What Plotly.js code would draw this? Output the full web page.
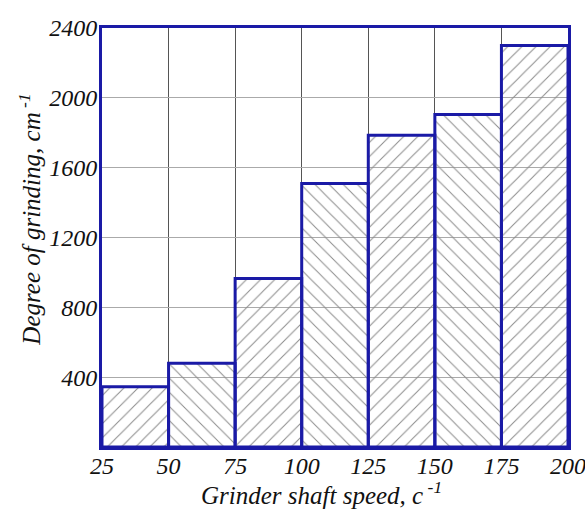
<!DOCTYPE html>
<html>
<head>
<meta charset="utf-8">
<script src="https://cdn.plot.ly/plotly-3.0.1.min.js"></script>
<style>html,body{margin:0;padding:0;background:#fff;}#chart{width:585px;height:510px;}</style>
</head>
<body>
<div id="chart"></div>
<script>
// Bin edges of grinder shaft speed (c^-1)
const binEdges = [25, 50, 75, 100, 125, 150, 175, 200];
// Degree of grinding (cm^-1) per bin
const grindValues = [345, 480, 965, 1510, 1785, 1905, 2300];
// Hatch direction per bin
const hatchShapes = ['/', '\\', '/', '\\', '/', '\\', '/'];
const xTickVals = [25, 50, 75, 100, 125, 150, 175, 200];
const yTickVals = [400, 800, 1200, 1600, 2000, 2400];
const xTitle = 'Grinder shaft speed, c<sup> -1</sup>';
const yTitle = 'Degree of grinding, cm<sup> -1</sup>';

const centers = grindValues.map((v, i) => (binEdges[i] + binEdges[i + 1]) / 2);
const widths = grindValues.map((v, i) => binEdges[i + 1] - binEdges[i]);

const blue = '#1a1aa6';
const fontFam = 'Liberation Serif';

const trace = {
  type: 'bar',
  x: centers,
  y: grindValues,
  width: widths,
  marker: {
    color: 'rgba(0,0,0,0)',
    line: {color: blue, width: 3},
    pattern: {
      shape: hatchShapes,
      fgcolor: '#8c8c8c',
      bgcolor: 'rgba(0,0,0,0)',
      size: 10,
      solidity: 0.1,
      fillmode: 'replace'
    }
  },
  hoverinfo: 'x+y'
};

const titleFont = {family: fontFam, size: 25, style: 'italic', color: '#111'};

const layout = {
  width: 585,
  height: 510,
  margin: {l: 102, r: 17, t: 28, b: 63},
  paper_bgcolor: '#fff',
  plot_bgcolor: '#fff',
  showlegend: false,
  bargap: 0,
  font: {family: fontFam, color: '#111'},
  xaxis: {
    range: [25, 200],
    tickvals: xTickVals,
    ticktext: xTickVals.map(String),
    tickfont: {family: fontFam, size: 24, style: 'italic', color: '#111'},
    ticklabeloverflow: 'allow',
    ticklabelstandoff: -5,
    showgrid: true,
    gridcolor: '#555',
    gridwidth: 1,
    zeroline: false,
    showline: true,
    mirror: true,
    linecolor: blue,
    linewidth: 3,
    ticks: ''
  },
  yaxis: {
    range: [0, 2400],
    tickvals: yTickVals,
    ticktext: yTickVals.map(String),
    tickfont: {family: fontFam, size: 24, style: 'italic', color: '#111'},
    ticklabeloverflow: 'allow',
    ticklabelstandoff: -3,
    showgrid: true,
    gridcolor: '#aaa',
    gridwidth: 1,
    zeroline: false,
    showline: true,
    mirror: true,
    linecolor: blue,
    linewidth: 3,
    ticks: ''
  },
  annotations: [
    {
      text: xTitle, xref: 'paper', yref: 'paper',
      x: 0.47, y: -0.066, xanchor: 'center', yanchor: 'top',
      showarrow: false, font: titleFont
    },
    {
      text: yTitle, xref: 'paper', yref: 'paper', textangle: -90,
      x: -0.155, y: 0.542, xanchor: 'center', yanchor: 'middle',
      showarrow: false, font: titleFont
    }
  ]
};

Plotly.newPlot('chart', [trace], layout, {displayModeBar: false, staticPlot: true});
</script>
</body>
</html>
